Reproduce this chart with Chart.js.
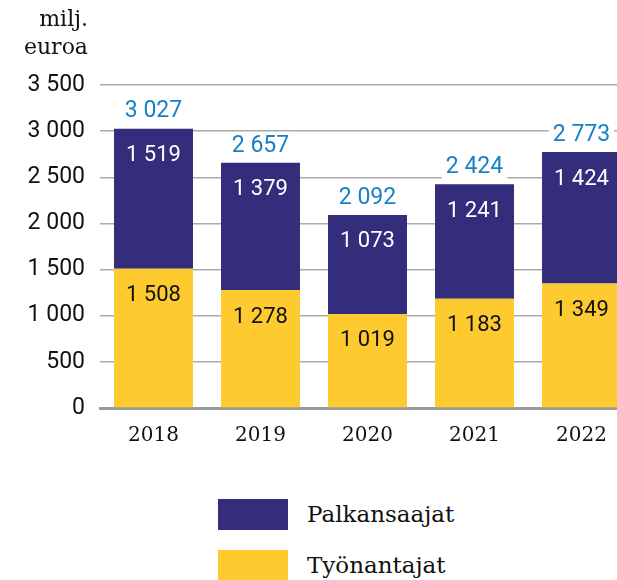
<!DOCTYPE html>
<html><head><meta charset="utf-8">
<script src="https://cdn.jsdelivr.net/npm/chart.js@4"></script>
<style>
html,body{margin:0;padding:0;overflow:hidden;background:#fff;width:617px;height:580px;}
#wrap{position:absolute;left:0;top:0;}
.t{position:absolute;font-family:"DejaVu Serif",serif;color:#111;}
.box{position:absolute;}
</style></head><body>
<div id="wrap"><canvas id="c" width="640" height="465"></canvas></div>
<div class="t" style="right:529px;top:5px;font-size:22px;text-align:right;line-height:28px;width:100px;">milj.<br>euroa</div>
<div class="box" style="left:218px;top:499px;width:70px;height:31px;background:#332d7b"></div>
<div class="t" style="left:307px;top:499px;font-size:23px;line-height:30px;">Palkansaajat</div>
<div class="box" style="left:218px;top:550px;width:70px;height:30px;background:#fdca30"></div>
<div class="t" style="left:307px;top:550px;font-size:23px;line-height:30px;">Työnantajat</div>
<script>
const years = ['2018','2019','2020','2021','2022'];
const tyonantajat = [1508,1278,1019,1183,1349];
const palkansaajat = [1519,1379,1073,1241,1424];
const seriesNames = ['Työnantajat','Palkansaajat'];

const fmt = v => String(v).replace(/\B(?=(\d{3})+(?!\d))/g,' ');

const labelPlugin = {
  id:'labels',
  afterDatasetsDraw(chart){
    const ctx = chart.ctx;
    ctx.save();
    ctx.font = '22px Roboto';
    ctx.textAlign = 'center';
    ctx.textBaseline = 'middle';
    const colors = ['#111111','#ffffff'];
    chart.data.datasets.forEach((ds,di)=>{
      const meta = chart.getDatasetMeta(di);
      meta.data.forEach((bar,i)=>{
        ctx.fillStyle = colors[di];
        ctx.fillText(fmt(ds.data[i]), bar.x, bar.y + 27);
      });
    });
    ctx.font = '23px Roboto';
    const top = chart.getDatasetMeta(1);
    top.data.forEach((bar,i)=>{
      const total = tyonantajat[i] + palkansaajat[i];
      const txt = fmt(total);
      const w = ctx.measureText(txt).width;
      const y = bar.y - 17;
      ctx.fillStyle = '#ffffff';
      ctx.fillRect(bar.x - w/2 - 4, y - 12, w + 8, 24);
      ctx.fillStyle = '#1a80c6';
      ctx.fillText(txt, bar.x, y);
    });
    ctx.restore();
  }
};

new Chart(document.getElementById('c'), {
  type:'bar',
  data:{
    labels: years,
    datasets:[
      {label:seriesNames[0], data:tyonantajat, backgroundColor:'#fdca30', categoryPercentage:1, barPercentage:0.738},
      {label:seriesNames[1], data:palkansaajat, backgroundColor:'#332d7b', categoryPercentage:1, barPercentage:0.738}
    ]
  },
  options:{
    responsive:false,
    animation:false,
    devicePixelRatio:1,
    layout:{padding:{top:85,right:5,left:0,bottom:0}},
    plugins:{legend:{display:false},tooltip:{enabled:false}},
    scales:{
      x:{
        stacked:true,
        grid:{display:false,drawTicks:false},
        border:{display:true,color:'#9a9a9a',width:3},
        ticks:{color:'#111',font:{family:'DejaVu Serif',size:20},padding:16},
        afterFit(s){ s.height = 57; }
      },
      y:{
        stacked:true,
        min:0,max:3500,
        grid:{color:'#ababab',lineWidth:1.5,drawTicks:false},
        border:{display:false},
        ticks:{stepSize:500,color:'#111',font:{family:'Roboto',size:23},padding:15,callback:v=>fmt(v)},
        afterFit(s){ s.width = 100; }
      }
    }
  },
  plugins:[labelPlugin]
});
</script>
</body></html>
